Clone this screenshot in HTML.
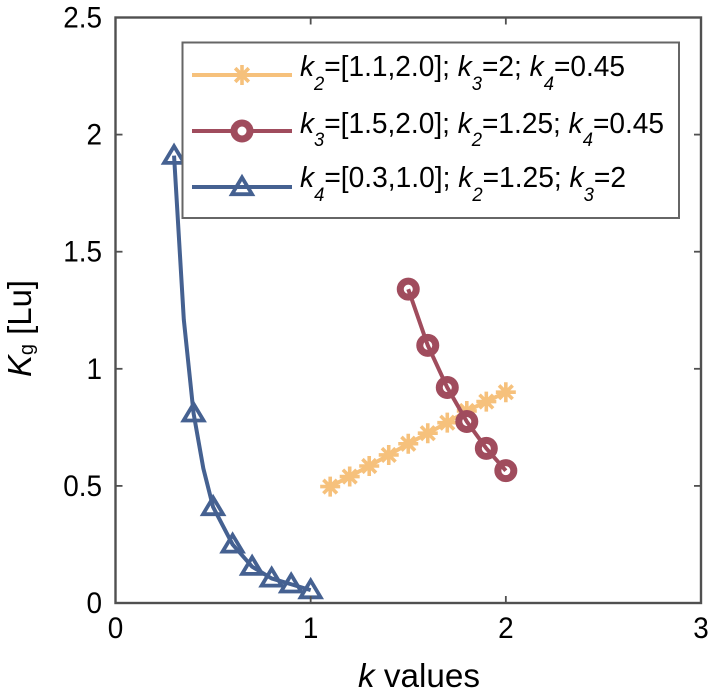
<!DOCTYPE html>
<html>
<head>
<meta charset="utf-8">
<style>
html,body{margin:0;padding:0;background:#fff;}
svg{display:block;font-family:"Liberation Sans",sans-serif;fill:#000;}
</style>
</head>
<body>
<svg id="chart" xmlns="http://www.w3.org/2000/svg" width="711" height="699" viewBox="0 0 711 699">
  <rect x="0" y="0" width="711" height="699" fill="#fff"/>
  <g id="series"></g>
  <g id="axes"></g>
  <text x="358" y="687" font-size="33" textLength="122" lengthAdjust="spacingAndGlyphs"><tspan font-style="italic">k</tspan> values</text>
  <text transform="translate(31,377) rotate(-90)" font-size="33" textLength="97" lengthAdjust="spacingAndGlyphs"><tspan font-style="italic">K</tspan><tspan font-size="20" dy="2">g</tspan><tspan dy="-2"> [Lu]</tspan></text>
  <g>
    <rect x="182.5" y="42.5" width="496.5" height="175.5" fill="#fff" stroke="#666" stroke-width="2"/>
    <g id="legend-keys"></g>
    <text x="300" y="76" font-size="29" textLength="325" lengthAdjust="spacingAndGlyphs"><tspan font-style="italic">k</tspan><tspan font-style="italic" font-size="19" dy="14">2</tspan><tspan dy="-14">=[1.1,2.0]; </tspan><tspan font-style="italic">k</tspan><tspan font-style="italic" font-size="19" dy="14">3</tspan><tspan dy="-14">=2; </tspan><tspan font-style="italic">k</tspan><tspan font-style="italic" font-size="19" dy="14">4</tspan><tspan dy="-14">=0.45</tspan></text>
    <text x="300" y="133" font-size="29" textLength="364" lengthAdjust="spacingAndGlyphs"><tspan font-style="italic">k</tspan><tspan font-style="italic" font-size="19" dy="13">3</tspan><tspan dy="-13">=[1.5,2.0]; </tspan><tspan font-style="italic">k</tspan><tspan font-style="italic" font-size="19" dy="13">2</tspan><tspan dy="-13">=1.25; </tspan><tspan font-style="italic">k</tspan><tspan font-style="italic" font-size="19" dy="13">4</tspan><tspan dy="-13">=0.45</tspan></text>
    <text x="300" y="187" font-size="29" textLength="326" lengthAdjust="spacingAndGlyphs"><tspan font-style="italic">k</tspan><tspan font-style="italic" font-size="19" dy="14">4</tspan><tspan dy="-14">=[0.3,1.0]; </tspan><tspan font-style="italic">k</tspan><tspan font-style="italic" font-size="19" dy="14">2</tspan><tspan dy="-14">=1.25; </tspan><tspan font-style="italic">k</tspan><tspan font-style="italic" font-size="19" dy="14">3</tspan><tspan dy="-14">=2</tspan></text>
  </g>
</svg>
<script>
const xTicks = [0, 1, 2, 3];
const yTicks = [0, 0.5, 1, 1.5, 2, 2.5];
const xTickLabels = ["0", "1", "2", "3"];
const yTickLabels = ["0", "0.5", "1", "1.5", "2", "2.5"];

const k2X = [1.1, 1.2, 1.3, 1.4, 1.5, 1.6, 1.7, 1.8, 1.9, 2.0];
const k2Y = [0.497, 0.54, 0.585, 0.632, 0.68, 0.725, 0.77, 0.82, 0.86, 0.90];
const k3X = [1.5, 1.6, 1.7, 1.8, 1.9, 2.0];
const k3Y = [1.34, 1.10, 0.92, 0.775, 0.66, 0.565];
const k4X = [0.3, 0.4, 0.5, 0.6, 0.7, 0.8, 0.9, 1.0];
const k4Y = [1.91, 0.81, 0.41, 0.25, 0.155, 0.105, 0.08, 0.055];
const k4CurveX = [0.3, 0.35, 0.4, 0.45, 0.5, 0.6, 0.7, 0.8, 0.9, 1.0];
const k4CurveY = [1.91, 1.21, 0.81, 0.575, 0.41, 0.25, 0.155, 0.105, 0.08, 0.055];

const plotLeft = 115.5, plotRight = 701, plotTop = 17.5, plotBottom = 603;
const xMax = 3, yMax = 2.5;
const sx = function (v) { return plotLeft + (plotRight - plotLeft) * v / xMax; };
const sy = function (v) { return plotBottom - (plotBottom - plotTop) * v / yMax; };

const NS = "http://www.w3.org/2000/svg";
const ORANGE = "#F6C17C", RED = "#A04C5D", BLUE = "#456191", AXIS = "#505050";
const LINE_W = 4;

function make(parent, tag, attrs) {
  const el = document.createElementNS(NS, tag);
  for (const k in attrs) el.setAttribute(k, attrs[k]);
  parent.appendChild(el);
  return el;
}

function star(parent, cx, cy) {
  const g = make(parent, "g", { stroke: ORANGE, "stroke-width": 3.6, fill: "none" });
  
  
  const r = 10;
  const d = 6.8;
  make(g, "path", { d: "M" + (cx - r) + " " + cy + "H" + (cx + r) + "M" + cx + " " + (cy - r) + "V" + (cy + r) +
    "M" + (cx - d) + " " + (cy - d) + "L" + (cx + d) + " " + (cy + d) +
    "M" + (cx - d) + " " + (cy + d) + "L" + (cx + d) + " " + (cy - d) });
}

function ring(parent, cx, cy) {
  const c = make(parent, "circle", { cx: cx, cy: cy, r: 8, fill: "#fff", stroke: RED, "stroke-width": 7 });
  
  
}

function tri(parent, cx, cy) {
  const p = make(parent, "path", {
    d: "M" + cx + " " + (cy - 9.5) + "L" + (cx + 10) + " " + (cy + 7.2) + "H" + (cx - 10) + "Z",
    fill: "none", stroke: BLUE, "stroke-width": 3.8
  });
  
  
}

function linePath(xs, ys) {
  return xs.map(function (v, i) { return (i ? "L" : "M") + sx(v).toFixed(2) + " " + sy(ys[i]).toFixed(2); }).join("");
}

function squeeze(el) {
  el.setAttribute("textLength", (el.getComputedTextLength() * 0.93).toFixed(2));
  el.setAttribute("lengthAdjust", "spacingAndGlyphs");
}

const seriesG = document.getElementById("series");

const g4 = make(seriesG, "g", {});


const line4 = make(g4, "path", { d: linePath(k4CurveX, k4CurveY), fill: "none", stroke: BLUE, "stroke-width": LINE_W, "stroke-linejoin": "round" });


k4X.forEach(function (v, i) { tri(g4, sx(v), sy(k4Y[i])); });

const g2 = make(seriesG, "g", {});


const line2 = make(g2, "path", { d: linePath(k2X, k2Y), fill: "none", stroke: ORANGE, "stroke-width": LINE_W });


k2X.forEach(function (v, i) { star(g2, sx(v), sy(k2Y[i])); });

const g3 = make(seriesG, "g", {});


k3X.forEach(function (v, i) { ring(g3, sx(v), sy(k3Y[i])); });
const line3 = make(g3, "path", { d: linePath(k3X, k3Y), fill: "none", stroke: RED, "stroke-width": LINE_W });



const axesG = document.getElementById("axes");
const frame = make(axesG, "rect", { x: plotLeft, y: plotTop, width: plotRight - plotLeft, height: plotBottom - plotTop, fill: "none", stroke: AXIS, "stroke-width": 2.4 });



xTicks.forEach(function (v, i) {
  const t = make(axesG, "line", { x1: sx(v), x2: sx(v), y1: plotBottom, y2: plotBottom - 7, stroke: AXIS, "stroke-width": 1.8 });
  
  
  const tt = make(axesG, "line", { x1: sx(v), x2: sx(v), y1: plotTop, y2: plotTop + 7, stroke: AXIS, "stroke-width": 1.8 });
  
  
  const l = make(axesG, "text", { x: sx(v), y: 638, "font-size": 30, "text-anchor": "middle" });
  
  
  l.textContent = xTickLabels[i];
  squeeze(l);
});

yTicks.forEach(function (v, i) {
  const t = make(axesG, "line", { x1: plotLeft, x2: plotLeft + 7, y1: sy(v), y2: sy(v), stroke: AXIS, "stroke-width": 1.8 });
  
  
  const r = make(axesG, "line", { x1: plotRight, x2: plotRight - 7, y1: sy(v), y2: sy(v), stroke: AXIS, "stroke-width": 1.8 });
  
  
  const l = make(axesG, "text", { x: 102, y: sy(v) + 10, "font-size": 30, "text-anchor": "end" });
  
  
  l.textContent = yTickLabels[i];
  squeeze(l);
});

const keys = document.getElementById("legend-keys");
const keyRows = [
  { y: 75, color: ORANGE, draw: star },
  { y: 131, color: RED, draw: ring },
  { y: 187, color: BLUE, draw: tri }
];
keyRows.forEach(function (row) {
  const kl = make(keys, "line", { x1: 192, x2: 292, y1: row.y, y2: row.y, stroke: row.color, "stroke-width": LINE_W });
  
  
  row.draw(keys, 242, row.y);
});
</script>
</body>
</html>
